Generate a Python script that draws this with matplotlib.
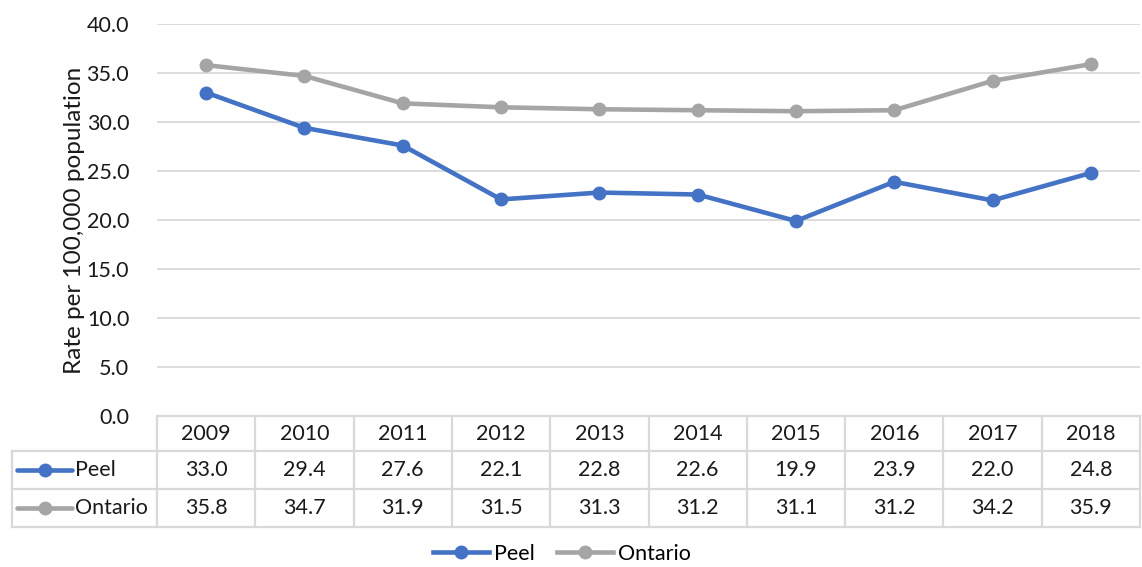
import matplotlib
matplotlib.use("Agg")
import matplotlib.pyplot as plt
import matplotlib.transforms as mtransforms
from matplotlib.lines import Line2D

plt.rcParams['font.family'] = ['Lato', 'DejaVu Sans']

years = ["2009", "2010", "2011", "2012", "2013", "2014", "2015", "2016", "2017", "2018"]
peel = [33.0, 29.4, 27.6, 22.1, 22.8, 22.6, 19.9, 23.9, 22.0, 24.8]
ontario = [35.8, 34.7, 31.9, 31.5, 31.3, 31.2, 31.1, 31.2, 34.2, 35.9]
series_names = ["Peel", "Ontario"]
colors = ["#4472C4", "#A5A5A5"]
yticks = [0, 5, 10, 15, 20, 25, 30, 35, 40]
ylabel = "Rate per 100,000 population"

W, H = 1142, 567
fig = plt.figure(figsize=(W / 100, H / 100), dpi=100)
left, right, top, bottom = 157, 1140, 24, 416
ax = fig.add_axes([left / W, 1 - bottom / H, (right - left) / W, (bottom - top) / H])

TXT = "#1a1a1a"
x = list(range(len(years)))
for vals, c in zip([peel, ontario], colors):
    ax.plot(x, vals, color=c, lw=3.3, marker='o', ms=9, zorder=3, solid_capstyle='round')

ax.set_xlim(-0.5, len(years) - 0.5)
ax.set_ylim(0, 40)
ax.set_yticks(yticks)
ax.set_yticklabels([f"{v:.1f}" for v in yticks], fontsize=15.5, color=TXT)
ax.set_xticks([])
ax.tick_params(axis='y', length=0, pad=20)
for s in ax.spines.values():
    s.set_visible(False)
ax.grid(axis='y', color='#D9D9D9', lw=1.3)
ax.set_axisbelow(True)
ax.set_ylabel(ylabel, fontsize=17.5, color=TXT, labelpad=1)

# data table
trans = mtransforms.blended_transform_factory(ax.transData, ax.transAxes)
ph = bottom - top
def yf(py):
    return (bottom - py) / ph

row_y = [yf(416), yf(451), yf(489), yf(527)]
unit = (right - left) / len(years)
col_left = -0.5 - 145 / unit
grid_c = '#D9D9D9'
lwt = 1.6
ax.add_line(Line2D([-0.5, len(years) - 0.5], [row_y[0]] * 2, transform=trans, color=grid_c, lw=lwt, clip_on=False))
for ry in row_y[1:]:
    ax.add_line(Line2D([col_left, len(years) - 0.5], [ry] * 2, transform=trans, color=grid_c, lw=lwt, clip_on=False))
for i in range(len(years) + 1):
    ax.add_line(Line2D([i - 0.5] * 2, [row_y[0], row_y[3]], transform=trans, color=grid_c, lw=lwt, clip_on=False))
ax.add_line(Line2D([col_left] * 2, [row_y[1], row_y[3]], transform=trans, color=grid_c, lw=lwt, clip_on=False))

fs = 15.5
for i, yr in enumerate(years):
    ax.text(i, (row_y[0] + row_y[1]) / 2, yr, transform=trans, ha='center', va='center', fontsize=fs, color=TXT)
for r, (vals, name, c) in enumerate(zip([peel, ontario], series_names, colors)):
    cy = (row_y[r + 1] + row_y[r + 2]) / 2
    for i, v in enumerate(vals):
        ax.text(i, cy, f"{v:.1f}", transform=trans, ha='center', va='center', fontsize=fs, color=TXT)
    kx0 = col_left + 5 / unit
    kx1 = col_left + 60 / unit
    ax.add_line(Line2D([kx0, kx1], [cy, cy], transform=trans, color=c, lw=3.3, clip_on=False, solid_capstyle='round'))
    ax.add_line(Line2D([(kx0 + kx1) / 2], [cy], transform=trans, color=c, marker='o', ms=9, clip_on=False))
    ax.text(kx1 + 3 / unit, cy, name, transform=trans, ha='left', va='center', fontsize=fs, color=TXT)

handles = [Line2D([], [], color=c, lw=3.3, marker='o', ms=9) for c in colors]
fig.legend(handles, series_names, loc='center', bbox_to_anchor=(562 / W, 1 - 554 / H), ncol=2,
           frameon=False, fontsize=15.5, handlelength=2.6, handletextpad=0.25, columnspacing=1.0)

fig.savefig("out.png", dpi=100)
